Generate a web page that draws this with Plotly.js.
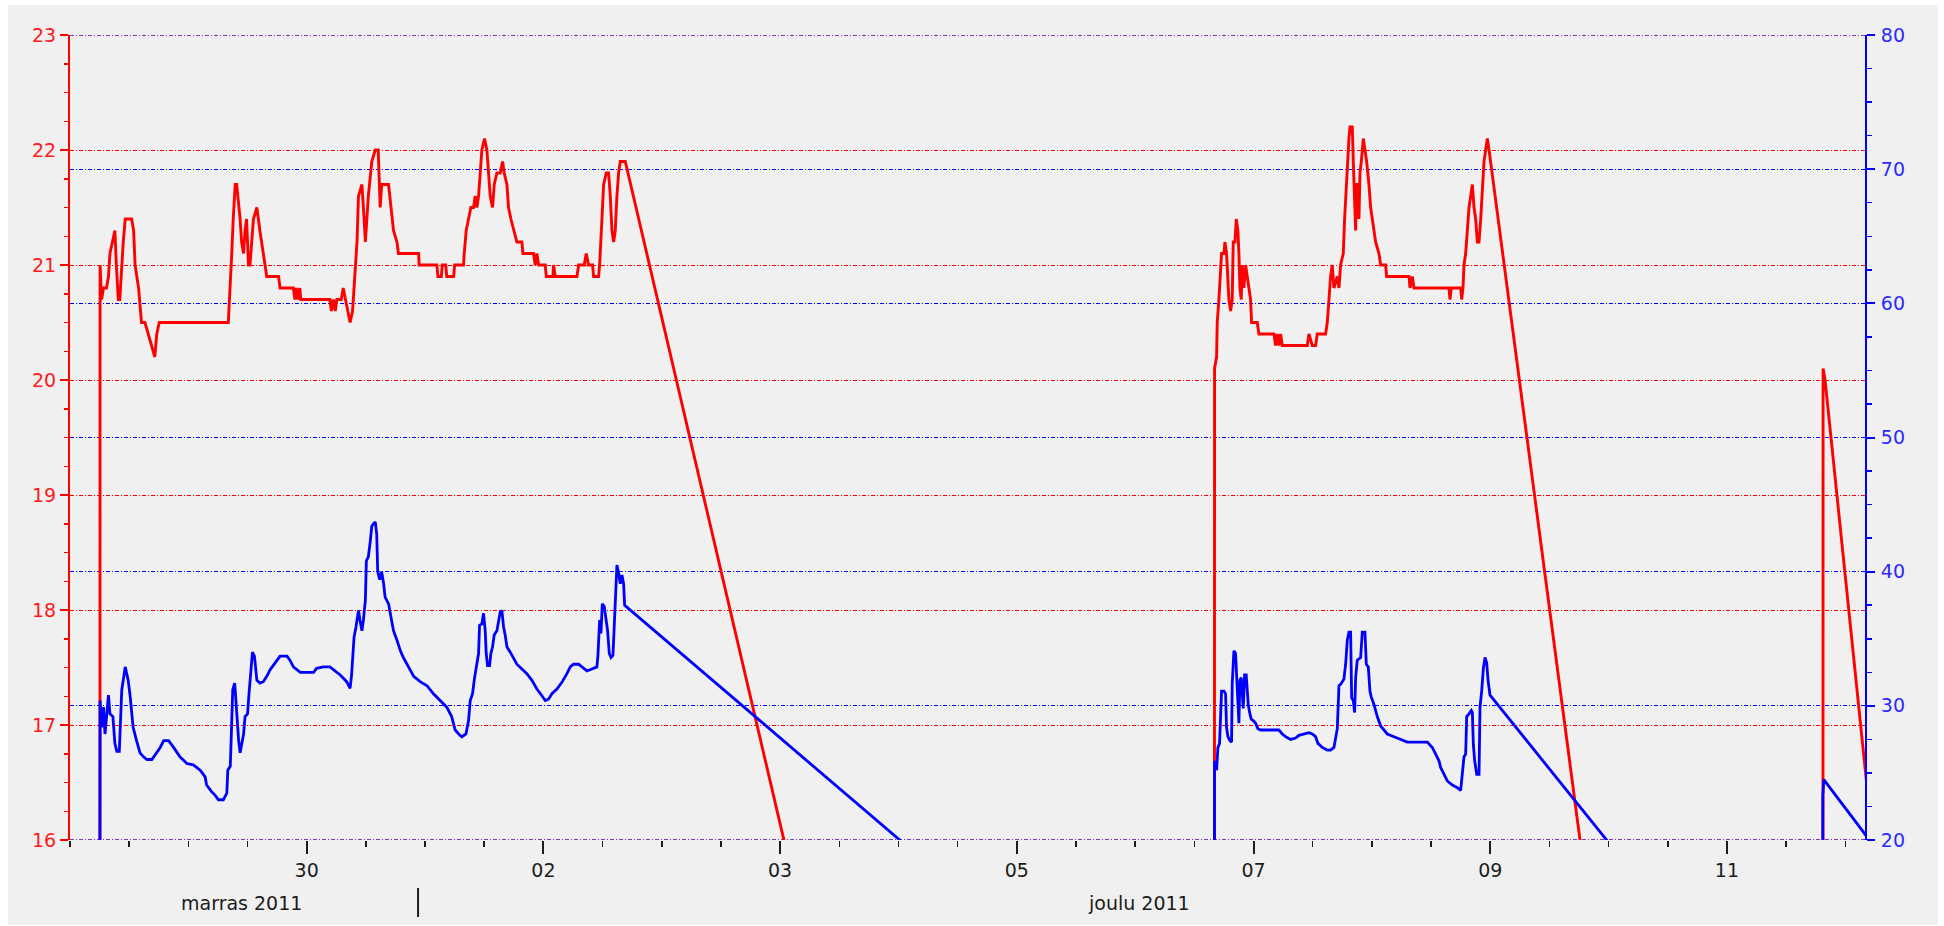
<!DOCTYPE html>
<html><head><meta charset="utf-8">
<script src="https://cdn.plot.ly/plotly-3.0.1.min.js"></script>
<style>
html,body{margin:0;padding:0;background:#ffffff;}
#chart{position:absolute;left:8px;top:5px;width:1930px;height:920px;}
</style></head>
<body><div id="chart"></div>
<script>
// time origin of the series: 28 Nov 2011 00:00; times below are hours after it
const startDate = Date.UTC(2011, 10, 28, 0, 0);

const redHours = [6.0,6.1,6.4,6.8,7.4,7.8,8.1,8.6,9.1,9.4,9.8,10.1,10.5,10.8,11.2,12.5,12.9,13.2,13.9,14.5,15.2,15.9,16.6,17.2,17.6,18.1,
32.1,32.5,32.8,33.1,33.5,33.8,34.5,34.8,35.2,35.5,35.8,36.2,36.5,37.2,37.9,38.5,39.2,39.6,39.9,42.3,42.6,45.3,45.6,45.9,46.2,46.6,46.8,
52.7,53.0,53.4,53.8,54.1,55.0,55.4,55.9,56.3,56.8,57.3,57.8,58.2,58.5,59.2,59.5,59.9,60.2,60.5,61.2,61.9,62.5,62.9,63.2,64.6,65.6,66.3,66.6,
70.7,70.8,74.4,74.6,75.3,75.5,76.2,76.4,77.8,78.0,79.8,79.94,80.35,80.82,81.29,81.83,82.17,82.51,82.85,83.19,83.52,84.06,84.54,84.88,85.21,
85.69,86.03,86.57,87.24,87.72,88.05,88.6,88.93,89.41,89.95,90.62,91.64,91.84,94.0,94.34,94.68,95.02,96.37,96.58,97.93,98.06,98.4,102.8,
103.14,104.28,104.69,105.16,105.98,106.18,107.19,107.4,107.87,108.21,108.75,109.22,109.56,109.9,110.24,110.57,110.91,111.25,111.59,112.6,
232.0,232.1,232.51,232.64,232.98,233.32,233.52,234.0,234.2,234.53,234.81,235.01,235.35,235.68,235.89,236.23,236.5,236.83,237.04,237.24,
237.51,237.71,238.05,238.39,238.73,239.07,239.4,239.61,240.76,241.09,244.14,244.48,244.81,245.15,245.49,245.83,250.9,251.24,251.91,252.59,
252.93,254.62,254.96,255.3,255.63,255.97,256.31,256.99,257.33,257.66,258.2,258.47,258.81,259.02,259.35,259.56,260.03,260.23,260.5,260.71,
260.91,261.18,261.38,261.59,261.86,262.26,262.6,262.94,263.41,263.75,264.09,264.43,264.76,265.44,265.78,266.79,266.99,271.53,271.73,272.2,
272.54,279.64,279.84,280.12,282.01,282.21,282.48,282.68,283.02,283.36,283.7,284.04,284.38,284.71,285.05,285.39,285.73,286.07,286.41,286.74,
287.08,287.42,287.76,355.4,355.5,355.9,404.0];

const redTemp = [0,21.0,20.7,20.8,20.8,20.9,21.1,21.2,21.3,21.0,20.7,20.7,21.0,21.2,21.4,21.4,21.3,21.0,20.8,20.5,20.5,20.4,20.3,20.2,20.4,20.5,
20.5,20.8,21.1,21.4,21.7,21.7,21.4,21.2,21.1,21.3,21.4,21.0,21.0,21.4,21.5,21.3,21.1,21.0,20.9,20.9,20.8,20.8,20.7,20.8,20.7,20.8,20.7,
20.7,20.6,20.7,20.6,20.7,20.7,20.8,20.7,20.6,20.5,20.6,21.0,21.2,21.6,21.7,21.5,21.2,21.4,21.6,21.9,22.0,22.0,21.5,21.7,21.7,21.3,21.2,21.1,
21.1,21.0,21.0,20.9,20.9,21.0,21.0,20.9,20.9,21.0,21.0,21.1,21.3,21.4,21.5,21.5,21.6,21.5,21.6,21.8,22.0,22.1,22.0,21.8,21.6,
21.5,21.7,21.8,21.8,21.9,21.8,21.7,21.5,21.4,21.3,21.2,21.2,21.1,21.1,21.0,21.1,21.0,21.0,20.9,20.9,21.0,20.9,20.9,
21.0,21.0,21.1,21.0,21.0,20.9,20.9,21.0,21.4,21.7,21.8,21.8,21.6,21.3,21.2,21.3,21.6,21.8,21.9,21.9,
0,20.1,20.2,20.5,20.7,20.9,21.1,21.1,21.2,21.1,20.9,20.7,20.6,20.7,21.2,21.2,21.4,21.3,21.1,20.8,
20.7,21.0,20.8,21.0,20.9,20.8,20.7,20.5,20.5,20.4,20.4,20.3,20.4,20.3,20.4,20.3,20.3,20.4,20.3,20.3,
20.4,20.4,20.5,20.7,20.9,21.0,20.8,20.9,20.8,21.0,21.1,21.4,21.7,21.9,22.1,22.2,22.2,21.9,21.5,21.3,
21.7,21.7,21.4,21.8,21.9,22.1,22.0,21.9,21.7,21.5,21.4,21.3,21.2,21.1,21.0,21.0,20.9,20.9,20.8,20.9,
20.8,20.8,20.7,20.8,20.8,20.7,20.8,21.0,21.1,21.3,21.5,21.6,21.7,21.5,21.4,21.2,21.2,21.4,21.7,21.9,
22.0,22.1,22.0,0,20.1,20.0,0];

const blueHours = [6.0,6.1,6.4,6.8,7.1,7.4,7.8,8.1,8.7,9.1,9.5,10.0,10.3,10.5,10.8,11.2,11.5,11.8,12.2,12.5,12.8,13.5,14.2,14.9,15.6,16.6,
17.6,18.3,19.0,20.0,21.0,22.3,23.7,25.0,26.4,27.4,27.7,28.7,29.4,30.1,31.1,31.8,32.0,32.5,32.7,33.0,33.4,33.6,33.8,34.2,34.5,34.8,35.2,
35.5,36.0,36.3,36.7,37.0,37.4,37.9,38.5,39.2,39.9,40.6,41.6,42.6,44.0,44.6,45.3,46.7,47.4,49.4,50.0,51.4,52.7,53.4,54.8,56.1,56.8,57.1,
57.3,57.6,58.0,58.5,58.8,59.2,59.5,59.9,60.1,60.5,60.9,61.2,61.6,61.9,62.2,62.4,62.8,63.2,63.6,63.9,64.6,65.0,65.6,66.3,67.0,67.6,68.6,
69.7,71.0,72.4,73.7,75.1,76.4,77.4,78.1,79.1,79.5,80.3,80.82,81.16,81.63,82.04,82.37,82.85,83.05,83.52,83.86,84.2,84.4,84.67,85.08,85.35,
85.69,86.03,86.57,86.9,87.24,87.58,87.92,88.26,88.6,89.27,89.95,90.62,91.64,92.65,93.67,94.68,95.7,96.37,97.05,97.72,98.74,99.75,100.77,
101.44,102.12,103.14,103.81,104.83,105.84,106.85,107.06,107.4,107.67,107.94,108.34,108.68,109.02,109.36,109.7,110.1,110.37,110.64,110.91,
111.25,111.59,111.93,112.26,112.47,112.8,
232.0,232.1,232.51,232.78,233.11,233.32,233.52,234.0,234.33,234.53,234.81,235.21,235.55,235.68,236.02,236.36,236.56,236.83,237.04,237.24,
237.51,237.92,238.19,238.52,238.73,238.93,239.27,239.54,239.95,240.42,240.89,241.43,243.46,245.15,245.83,246.5,247.52,248.53,249.21,250.22,
251.24,251.91,252.59,253.06,253.94,254.96,255.63,256.31,256.65,256.99,257.33,257.66,258.0,258.34,258.68,259.02,259.35,259.69,259.9,260.23,
260.5,260.71,261.04,261.38,261.72,262.06,262.6,262.87,263.28,263.61,263.88,264.43,265.1,265.78,266.45,267.13,268.48,269.84,271.19,273.22,
275.25,276.26,276.94,277.61,277.95,278.63,279.3,280.32,281.33,282.01,282.35,282.68,283.02,283.23,283.7,284.17,284.38,284.58,284.85,285.26,
285.73,285.93,286.27,286.61,286.95,287.29,287.56,287.96,355.4,355.45,355.65,406.0];

const blueHum = [0,30.4,28.4,29.9,27.9,29.4,30.8,29.4,29.2,27.2,26.6,26.6,28.9,31.2,31.9,32.9,32.4,31.9,30.7,29.4,28.4,27.4,26.5,26.2,26.0,26.0,
26.5,26.9,27.4,27.4,26.9,26.2,25.7,25.6,25.2,24.7,24.1,23.6,23.35,23.0,23.0,23.5,25.2,25.5,27.7,31.2,31.7,30.4,29.9,27.4,26.5,27.0,27.9,
29.2,29.4,30.9,32.9,34.0,33.7,31.9,31.7,31.8,32.2,32.7,33.2,33.7,33.7,33.4,32.9,32.5,32.5,32.5,32.8,32.9,32.9,32.7,32.3,31.8,31.3,32.3,
33.9,35.1,35.9,37.1,36.4,35.6,36.4,37.9,40.8,41.1,42.3,43.4,43.6,43.7,42.8,40.0,39.4,40.0,39.1,38.1,37.6,36.9,35.6,34.9,34.1,33.6,32.9,
32.2,31.8,31.5,30.9,30.4,29.9,29.2,28.2,27.8,27.7,27.9,28.9,30.4,30.9,32.1,33.0,33.9,36.0,36.1,36.9,35.6,33.9,33.0,33.0,33.9,
34.4,35.3,35.6,36.4,37.0,37.1,35.9,35.25,34.4,34.0,33.6,33.1,32.75,32.4,31.9,31.25,30.75,30.4,30.5,30.9,31.25,31.75,32.4,
32.9,33.1,33.1,32.9,32.6,32.75,32.9,33.75,36.4,35.4,37.6,37.4,36.5,35.6,33.9,33.6,33.75,36.4,39.25,40.5,
39.9,39.1,39.75,39.1,37.5,37.4,
0,25.9,25.2,26.9,27.2,30.3,31.1,31.1,30.9,28.4,27.7,27.4,27.3,31.6,34.1,33.9,32.4,30.4,28.7,31.9,
32.1,29.8,32.3,32.3,31.1,30.1,29.4,29.0,28.9,28.7,28.3,28.2,28.2,28.2,27.9,27.7,27.5,27.6,27.8,27.9,
28.0,27.9,27.7,27.2,26.9,26.7,26.7,26.9,27.7,28.3,31.5,31.6,31.8,32.0,33.1,34.9,35.5,35.5,30.6,30.4,
29.5,32.1,33.4,33.5,33.6,35.5,35.5,33.1,32.9,31.1,30.65,30.1,29.2,28.5,28.2,27.9,27.7,27.5,27.3,27.3,
27.3,26.9,26.4,25.9,25.4,24.9,24.4,24.1,23.9,23.7,24.9,26.2,26.4,29.2,29.4,29.65,29.5,27.1,25.9,24.9,
24.9,29.9,31.1,32.8,33.6,33.2,31.9,30.8,0,23.3,24.5,0];

const tickHours = [48, 96, 144, 192, 240, 288, 336];
const tickLabels = ['30', '02', '03', '05', '07', '09', '11'];
const monthLabels = ['marras 2011', 'joulu 2011'];
const rangeHours = [0, 364];
const leftRange = [16, 23];
const rightRange = [20, 80];

function toDate(h) {
  return new Date(startDate + h * 3600000).toISOString().replace('T', ' ').slice(0, 19);
}

const gridDash = '4px,2px,1px,2px';
const txt = '#1c1c1c';

const traces = [
  {x: redHours.map(toDate), y: redTemp, type: 'scatter', mode: 'lines', yaxis: 'y',
   line: {color: '#ff0000', width: 2.9}, hoverinfo: 'x+y'},
  {x: blueHours.map(toDate), y: blueHum, type: 'scatter', mode: 'lines', yaxis: 'y2',
   line: {color: '#0000ff', width: 2.8}, hoverinfo: 'x+y'}
];

function edgeLine(yref, v, color) {
  return {type: 'line', layer: 'below', xref: 'paper', yref: yref, x0: 0, x1: 1, y0: v, y1: v,
          line: {color: color, width: 1, dash: gridDash}};
}

const layout = {
  width: 1930, height: 920,
  paper_bgcolor: '#f0f0f0', plot_bgcolor: '#f0f0f0',
  margin: {l: 62, r: 73, t: 30, b: 85, pad: 0},
  showlegend: false,
  font: {family: 'DejaVu Sans', size: 19, color: txt},
  xaxis: {
    type: 'date', range: rangeHours.map(toDate),
    tickmode: 'array', tickvals: tickHours.map(toDate), ticktext: tickLabels,
    ticks: 'outside', ticklen: 13, tickwidth: 2, tickcolor: txt,
    tickfont: {family: 'DejaVu Sans', size: 19, color: txt},
    showgrid: false, zeroline: false, showline: false,
    minor: {tick0: toDate(0), dtick: 43200000, ticks: 'outside', ticklen: 6, tickwidth: 1.5, tickcolor: txt, showgrid: false}
  },
  yaxis: {
    range: leftRange, tick0: 16, dtick: 1,
    ticks: 'outside', ticklen: 8, tickwidth: 2, tickcolor: '#ff0000',
    tickfont: {family: 'DejaVu Sans', size: 19, color: '#ff1a1a'},
    showline: true, linecolor: '#ff0000', linewidth: 2,
    showgrid: true, gridcolor: '#ff0000', gridwidth: 1, griddash: gridDash,
    zeroline: false, ticklabelstandoff: 0,
    minor: {dtick: 0.25, ticks: 'outside', ticklen: 4, tickwidth: 1.5, tickcolor: '#ff0000', showgrid: false}
  },
  yaxis2: {
    overlaying: 'y', side: 'right', range: rightRange, tick0: 20, dtick: 10,
    ticks: 'outside', ticklen: 8, tickwidth: 2, tickcolor: '#0000ff',
    tickfont: {family: 'DejaVu Sans', size: 19, color: '#2a2aff'},
    showline: true, linecolor: '#0000ff', linewidth: 2,
    showgrid: true, gridcolor: '#0000ff', gridwidth: 1, griddash: gridDash,
    zeroline: false, ticklabelstandoff: 2,
    minor: {dtick: 2.5, ticks: 'outside', ticklen: 5, tickwidth: 1.5, tickcolor: '#0000ff', showgrid: false}
  },
  annotations: [
    {text: monthLabels[0], xref: 'paper', yref: 'paper', x: 0.0958, y: -63 / 805,
     xanchor: 'center', yanchor: 'middle', showarrow: false, font: {size: 19, color: txt}},
    {text: monthLabels[1], xref: 'paper', yref: 'paper', x: 0.5955, y: -63 / 805,
     xanchor: 'center', yanchor: 'middle', showarrow: false, font: {size: 19, color: txt}}
  ],
  shapes: [
    edgeLine('y', leftRange[0], '#ff0000'),
    edgeLine('y', leftRange[1], '#ff0000'),
    edgeLine('y2', rightRange[0], '#0000ff'),
    edgeLine('y2', rightRange[1], '#0000ff'),
    {type: 'line', xref: 'paper', yref: 'paper', x0: 0.1939, x1: 0.1939, y0: -48 / 805, y1: -77 / 805,
     line: {color: txt, width: 2}}
  ]
};

Plotly.newPlot('chart', traces, layout, {displayModeBar: false, staticPlot: true});
</script>
</body></html>
